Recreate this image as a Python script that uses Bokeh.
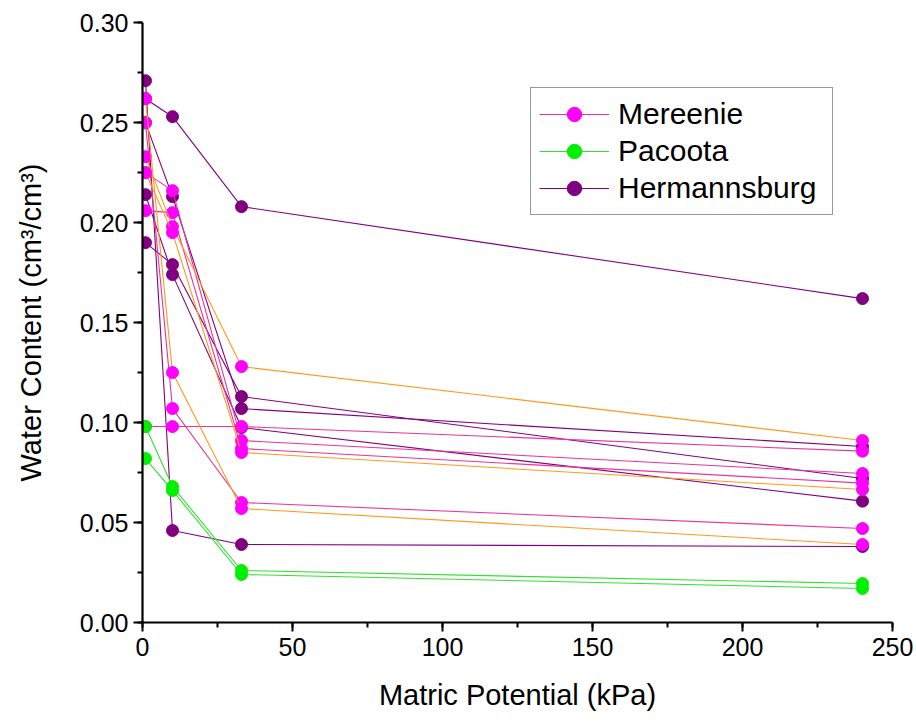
from bokeh.plotting import figure
from bokeh.models import Legend, LegendItem, SingleIntervalTicker, PrintfTickFormatter, Range1d
from bokeh.embed import file_html
from bokeh.resources import INLINE

# Matric potential steps (kPa)
POTENTIAL = [1, 10, 33, 240]

# Hermannsburg samples (water content, cm3/cm3)
H1 = [0.262, 0.253, 0.208, 0.162]
H2 = [0.190, 0.179, 0.113, 0.072]
H3 = [0.214, 0.174, 0.0975, 0.0607]
H4 = [0.271, 0.046, 0.039, 0.038]
H5 = [0.250, 0.213, 0.107, 0.088]

# Mereenie samples (pink connecting lines)
M1 = [0.098, 0.098, 0.098, 0.0857]
M2 = [0.250, 0.107, 0.060, 0.047]
M3 = [0.225, 0.216, 0.091, 0.0745]
M4 = [0.206, 0.205, 0.087, 0.0697]
# Mereenie samples (orange connecting lines)
O1 = [0.233, 0.198, 0.128, 0.091]
O2 = [0.262, 0.125, 0.057, 0.039]
O3 = [0.225, 0.195, 0.085, 0.0665]

# Pacoota samples
P1 = [0.098, 0.068, 0.026, 0.0195]
P2 = [0.082, 0.066, 0.024, 0.017]

PURPLE = "#800080"
MAGENTA = "#FF00FF"
PINK_LINE = "#E8349A"
ORANGE_LINE = "#FF9A1A"
GREEN = "#00F000"
GREEN_LINE = "#33E033"

FONT = "Liberation Sans"

p = figure(width=916, height=722, output_backend="svg", toolbar_location=None,
           x_range=Range1d(0, 250), y_range=Range1d(0, 0.3001),
           min_border_left=142, min_border_right=24, min_border_top=22, min_border_bottom=100)
p.outline_line_color = None
p.xgrid.grid_line_color = None
p.ygrid.grid_line_color = None

def series(vals, line_color, marker_color):
    r_line = p.line(POTENTIAL, vals, line_color=line_color, line_width=1.1)
    r_pt = p.scatter(POTENTIAL, vals, size=12, fill_color=marker_color, line_color=marker_color)
    return r_line, r_pt

h_r = None
for vals in [H1, H2, H3, H4, H5]:
    r = series(vals, PURPLE, PURPLE)
    if h_r is None:
        h_r = r
m_r = None
for vals in [M1, M2, M3, M4]:
    r = series(vals, PINK_LINE, MAGENTA)
    if m_r is None:
        m_r = r
for vals in [O1, O2, O3]:
    series(vals, ORANGE_LINE, MAGENTA)
p_r = None
for vals in [P1, P2]:
    r = series(vals, GREEN_LINE, GREEN)
    if p_r is None:
        p_r = r

p.xaxis.ticker = SingleIntervalTicker(interval=50, num_minor_ticks=2)
p.yaxis.ticker = SingleIntervalTicker(interval=0.05, num_minor_ticks=2)
p.yaxis.formatter = PrintfTickFormatter(format="%.2f")

for ax in (p.xaxis[0], p.yaxis[0]):
    ax.axis_line_width = 2.2
    ax.axis_line_color = "black"
    ax.major_tick_line_width = 2
    ax.minor_tick_line_width = 2
    ax.major_tick_out = 9
    ax.major_tick_in = 0
    ax.minor_tick_out = 5
    ax.minor_tick_in = 0
    ax.major_label_text_font = FONT
    ax.major_label_text_font_size = "25px"
    ax.major_label_text_color = "black"
    ax.axis_label_text_font = FONT
    ax.axis_label_text_font_size = "29px"
    ax.axis_label_text_font_style = "normal"
    ax.axis_label_text_color = "black"

p.xaxis.axis_label = "Matric Potential (kPa)"
p.yaxis.axis_label = "Water Content (cm\u00b3/cm\u00b3)"
p.xaxis.major_label_standoff = 6
p.yaxis.major_label_standoff = 5
p.xaxis.axis_label_standoff = 20
p.yaxis.axis_label_standoff = 30

legend = Legend(items=[
    LegendItem(label="Mereenie", renderers=[m_r[0], m_r[1]]),
    LegendItem(label="Pacoota", renderers=[p_r[0], p_r[1]]),
    LegendItem(label="Hermannsburg", renderers=[h_r[0], h_r[1]]),
], location=(388, 407))
legend.label_text_font = FONT
legend.label_text_font_size = "30px"
legend.label_text_color = "black"
legend.glyph_width = 70
legend.glyph_height = 36
legend.label_height = 36
legend.label_width = 206
legend.spacing = 1
legend.padding = 8
legend.margin = 0
legend.label_standoff = 9
legend.border_line_color = "#333333"
legend.border_line_width = 1.2
legend.background_fill_alpha = 1
p.add_layout(legend)

open("out.html", "w").write(file_html(p, INLINE))
